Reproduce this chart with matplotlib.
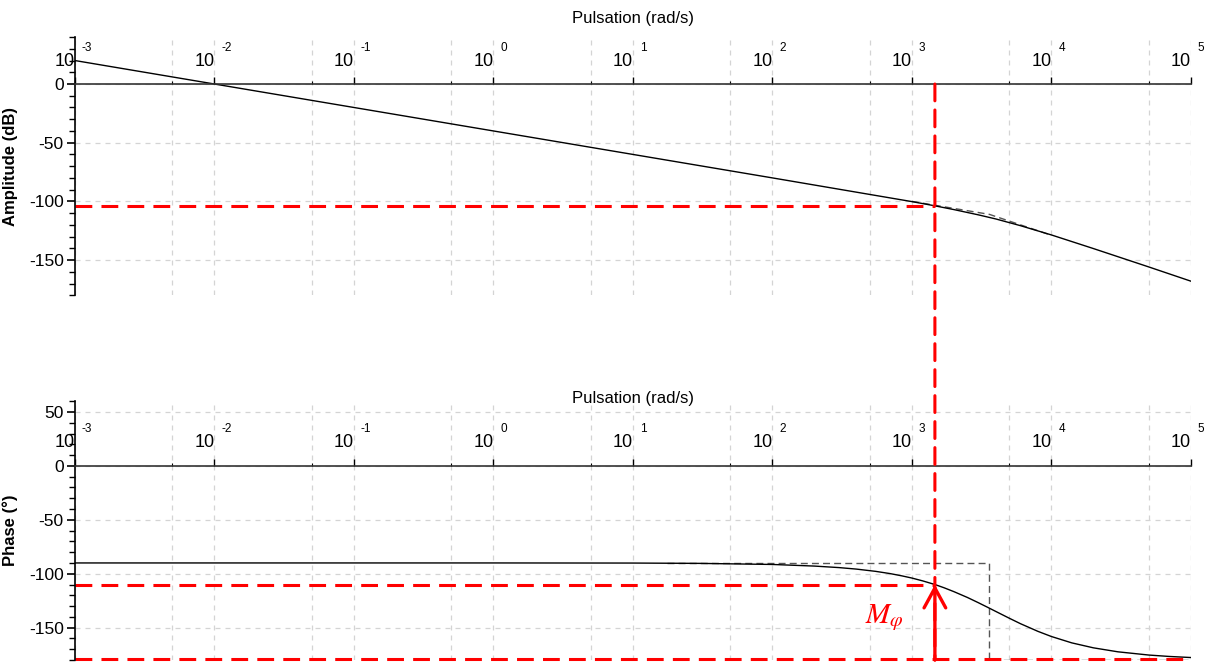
import numpy as np
import matplotlib
matplotlib.use("Agg")
import matplotlib.pyplot as plt
from matplotlib.patches import ConnectionPatch
from matplotlib.ticker import LogLocator, MultipleLocator, NullFormatter

plt.rcParams["font.family"] = ["Liberation Sans", "DejaVu Sans"]
plt.rcParams["mathtext.fontset"] = "stix"
plt.rcParams["axes.unicode_minus"] = False

# values
freq_amp = [1e-3, 1e-2, 1e-1, 1, 10, 100, 1000, 1462, 2000, 3000, 4000, 6000,
            1e4, 2e4, 5e4, 1e5]
amp_db = [20, 0, -20, -40, -60, -80, -100.2, -103.8, -107.0, -111.5, -115.0, -120.7,
          -128.6, -140.2, -155.9, -168.0]

freq_phase = [1e-3, 1e-2, 1e-1, 1, 10, 30, 100, 200, 300, 400, 550, 700, 850, 1000,
              1200, 1462, 1700, 2000, 2500, 3000, 3500, 4000, 5000, 6000, 8000, 1e4,
              1.4e4, 2e4, 3e4, 5e4, 7e4, 1e5]
phase_deg = [-90, -90, -90, -90, -90.1, -90.4, -91.4, -92.9, -94.3, -95.7, -97.8, -99.9,
             -102.0, -104.0, -106.7, -110.0, -113.0, -116.6, -122.0, -126.9, -131.2,
             -135.0, -141.3, -146.3, -153.4, -158.2, -164.1, -168.7, -172.4, -175.4,
             -176.7, -177.7]

# asymptotes (grey dashed)
asym_amp_w = [1000, 3600, 1e4]
asym_amp_db = [-100.0, -111.1, -128.9]
asym_ph_w = [17.5, 3600, 3600, 1e5]
asym_ph_deg = [-90, -90, -180, -180]

# crossover / margin
w_c = 1462
amp_c = -103.8
phase_c = -110

decades = [-3, -2, -1, 0, 1, 2, 3, 4, 5]

fig = plt.figure(figsize=(12.09, 6.62), dpi=100)
ax1 = fig.add_axes([0.062, 0.554, 0.923, 0.390])
ax2 = fig.add_axes([0.062, 0.003, 0.923, 0.391])

red_kw = dict(color="red", lw=2.2, dashes=(5.5, 3))


def style_axes(ax, ylim, yticks, ylabel, lab_y, exp_y, title_y):
    ax.set_xscale("log")
    ax.set_xlim(1e-3, 1e5)
    ax.set_ylim(*ylim)
    ax.spines["top"].set_visible(False)
    ax.spines["right"].set_visible(False)
    ax.spines["bottom"].set_position(("data", 0))
    ax.spines["bottom"].set_color("#333333")
    ax.spines["bottom"].set_linewidth(1.2)
    ax.spines["left"].set_linewidth(1.2)
    ax.xaxis.set_major_locator(LogLocator(base=10, numticks=20))
    ax.xaxis.set_minor_locator(LogLocator(base=10, subs=[5], numticks=20))
    ax.xaxis.set_major_formatter(NullFormatter())
    ax.xaxis.set_minor_formatter(NullFormatter())
    ax.tick_params(axis="x", which="major", direction="in", length=5, width=1)
    ax.tick_params(axis="x", which="minor", direction="in", length=2, width=0.8)
    ax.set_yticks(yticks)
    ax.yaxis.set_minor_locator(MultipleLocator(10))
    ax.tick_params(axis="y", which="major", length=6, width=1.2, labelsize=12.5, pad=2)
    ax.tick_params(axis="y", which="minor", length=4, width=1.0)
    ax.grid(True, axis="x", which="both", color="#d4d4d4", ls=(0, (4, 4)), lw=0.9)
    ax.grid(True, axis="y", which="major", color="#d4d4d4", ls=(0, (4, 4)), lw=0.9)
    ax.set_axisbelow(True)
    ax.set_ylabel(ylabel, fontsize=12, fontweight="bold")
    ax.yaxis.set_label_coords(-0.051, 0.5)
    ax.text(0.5, title_y, "Pulsation (rad/s)", transform=ax.transAxes,
            ha="center", va="center", fontsize=12)
    for d in decades:
        ax.text(10.0 ** d, lab_y, "10", ha="right", va="center", fontsize=13)
        ax.text(10.0 ** d * 1.12, exp_y, str(d), ha="left", va="center", fontsize=8.5)


style_axes(ax1, (-180, 40), [-150, -100, -50, 0], "Amplitude (dB)", 19, 31, 1.072)
style_axes(ax2, (-180, 60), [-150, -100, -50, 0, 50], "Phase (°)", 22, 34, 1.01)

# amplitude
ax1.plot(asym_amp_w, asym_amp_db, color="#555555", lw=1, ls=(0, (5, 3)))
ax1.plot(freq_amp, amp_db, color="black", lw=1)
ax1.plot([1e-3, w_c], [amp_c, amp_c], **red_kw)

# phase
ax2.plot(asym_ph_w, asym_ph_deg, color="#555555", lw=1, ls=(0, (5, 3)))
ax2.plot(freq_phase, phase_deg, color="black", lw=1)
ax2.plot([1e-3, w_c], [phase_c, phase_c], **red_kw)
ax2.plot([1e-3, 1e5], [-179, -179], clip_on=False, **red_kw)
ax2.annotate("", xy=(w_c, phase_c), xytext=(w_c, -180),
             arrowprops=dict(arrowstyle="->,head_length=0.55,head_width=0.3",
                             color="red", lw=2.4, mutation_scale=26,
                             shrinkA=0, shrinkB=0))
ax2.text(640, -141, r"$M_{\varphi}$", color="red", fontsize=21, ha="center", va="center")

# vertical red line through both plots
con = ConnectionPatch(xyA=(w_c, 0), coordsA=ax1.transData,
                      xyB=(w_c, -180), coordsB=ax2.transData,
                      color="red", lw=2.2, linestyle=(0, (5.5, 3)))
fig.add_artist(con)

fig.savefig("out.png", dpi=100)
